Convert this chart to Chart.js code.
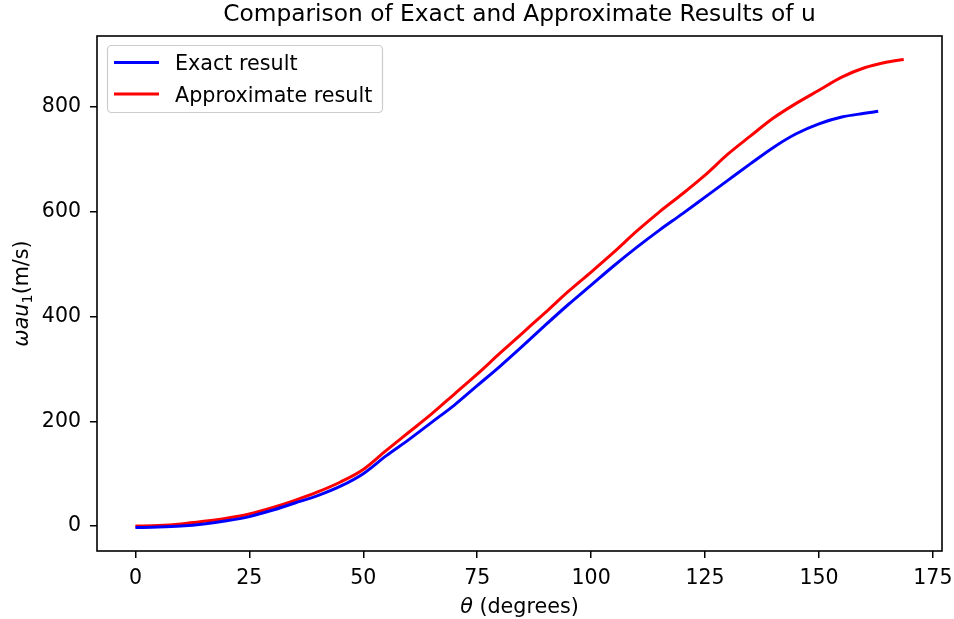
<!DOCTYPE html>
<html>
<head>
<meta charset="utf-8">
<script src="https://cdn.jsdelivr.net/npm/chart.js@4"></script>
<style>
  html, body { margin: 0; padding: 0; background: #fff; }
  #wrap { width: 954px; height: 619px; }
</style>
</head>
<body>
<div id="wrap"><canvas id="myChart" width="954" height="619"></canvas></div>
<script>
'use strict';
// values (degrees, m/s)
let exactTheta=[0,5,10,15,20,25,30,35,40,45,50,55,60,65,70,75,80,85,90,95,100,105,110,115,120,125,130,135,140,145,150,155,160,163];
let exactU=[-3,-2,0,4,10,18,30,44,58,76,100,134,165,198,231,268,305,344,384,423,460,497,532,565,596,628,660,692,723,749,768,781,788,792];
let approxTheta=[0,5,10,15,20,25,30,35,40,45,50,55,60,65,70,75,80,85,90,95,100,105,110,115,120,125,130,135,140,145,150,155,160,165,168.6];
let approxU=[0,1,4,9,15,23,35,49,65,84,108,144,179,214,252,290,330,369,408,448,485,523,563,600,634,670,710,745,779,807,832,857,875,886,891];
let xTicks=[0,25,50,75,100,125,150,175];
let yTicks=[0,200,400,600,800];
let seriesNames=['Exact result','Approximate result'];
let seriesColors=['#0000ff','#ff0000'];

const FONT='"DejaVu Sans", sans-serif';

function toPoints(xs, ys){
  return xs.map(function(x,i){ return {x:x, y:ys[i]}; });
}

// draws text made of plain / italic / subscript parts
function richWidth(ctx, parts, size){
  let w=0;
  parts.forEach(function(p){
    ctx.font=(p.italic?'italic ':'')+(p.sub?size*0.7:size)+'px '+FONT;
    w+=ctx.measureText(p.t).width;
  });
  return w;
}
function drawRich(ctx, parts, size, x, y){
  let cx=x;
  parts.forEach(function(p){
    ctx.font=(p.italic?'italic ':'')+(p.sub?size*0.7:size)+'px '+FONT;
    ctx.fillText(p.t, cx, p.sub?y+size*0.2:y);
    cx+=ctx.measureText(p.t).width;
  });
}

let decorations={
  id:'decorations',
  afterDraw:function(chart){
    let ctx=chart.ctx;
    let a=chart.chartArea;
    ctx.save();
    // frame
    ctx.strokeStyle='#000';
    ctx.lineWidth=1.6;
    ctx.strokeRect(a.left, a.top, a.right-a.left, a.bottom-a.top);
    ctx.fillStyle='#000';
    ctx.textBaseline='alphabetic';
    // title
    ctx.font='23.3px '+FONT;
    ctx.textAlign='center';
    ctx.fillText('Comparison of Exact and Approximate Results of u', (a.left+a.right)/2, 21);
    ctx.textAlign='left';
    // x label
    let xParts=[{t:'θ', italic:true},{t:' (degrees)'}];
    let w=richWidth(ctx, xParts, 20.7);
    drawRich(ctx, xParts, 20.7, (a.left+a.right)/2-w/2, 613);
    // y label
    let yParts=[{t:'ωau', italic:true},{t:'1', sub:true},{t:'(m/s)'}];
    w=richWidth(ctx, yParts, 20.7);
    ctx.save();
    ctx.translate(28, (a.top+a.bottom)/2);
    ctx.rotate(-Math.PI/2);
    drawRich(ctx, yParts, 20.7, -w/2, 0);
    ctx.restore();
    // legend
    ctx.beginPath();
    ctx.roundRect(107.5, 45.5, 275, 67, 4);
    ctx.fillStyle='rgba(255,255,255,0.8)';
    ctx.fill();
    ctx.strokeStyle='#cccccc';
    ctx.lineWidth=1.2;
    ctx.stroke();
    ctx.font='20.7px '+FONT;
    seriesNames.forEach(function(name,i){
      let ly=62.5+i*31.5;
      ctx.beginPath();
      ctx.moveTo(114, ly);
      ctx.lineTo(159, ly);
      ctx.strokeStyle=seriesColors[i];
      ctx.lineWidth=3;
      ctx.stroke();
      ctx.fillStyle='#000';
      ctx.fillText(name, 175, ly+7.5);
    });
    ctx.restore();
  }
};

new Chart(document.getElementById('myChart'), {
  type: 'line',
  data: {
    datasets: [{
      label: seriesNames[0],
      data: toPoints(exactTheta, exactU),
      borderColor: seriesColors[0],
      borderWidth: 3,
      pointRadius: 0,
      cubicInterpolationMode: 'monotone',
      fill: false
    },{
      label: seriesNames[1],
      data: toPoints(approxTheta, approxU),
      borderColor: seriesColors[1],
      borderWidth: 3,
      pointRadius: 0,
      cubicInterpolationMode: 'monotone',
      fill: false
    }]
  },
  options: {
    responsive: false,
    animation: false,
    devicePixelRatio: 1,
    layout: { padding: { left: 0, right: 12, top: 36, bottom: 0 } },
    plugins: {
      legend: { display: false },
      title: { display: false },
      tooltip: { enabled: false }
    },
    scales: {
      x: {
        type: 'linear',
        min: -8.43,
        max: 177.0,
        afterBuildTicks: function(scale){ scale.ticks=xTicks.map(function(v){ return {value:v}; }); },
        afterFit: function(scale){ scale.height=68; scale.paddingLeft=0; scale.paddingRight=0; },
        grid: { drawOnChartArea: false, drawTicks: true, tickLength: 7, color: '#000', lineWidth: 1.5 },
        border: { display: false },
        ticks: { color: '#000', padding: 8, maxRotation: 0, font: { family: FONT, size: 20.5 } }
      },
      y: {
        type: 'linear',
        min: -47.7,
        max: 935.7,
        afterBuildTicks: function(scale){ scale.ticks=yTicks.map(function(v){ return {value:v}; }); },
        afterFit: function(scale){ scale.width=97; scale.paddingTop=0; scale.paddingBottom=0; },
        grid: { drawOnChartArea: false, drawTicks: true, tickLength: 7, color: '#000', lineWidth: 1.5 },
        border: { display: false },
        ticks: { color: '#000', padding: 9, font: { family: FONT, size: 20.5 } }
      }
    }
  },
  plugins: [decorations]
});
</script>
</body>
</html>
